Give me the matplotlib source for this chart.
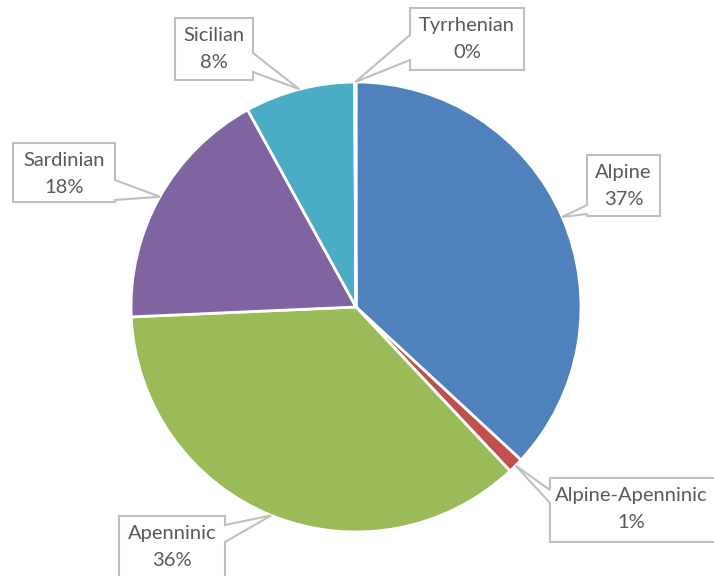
import numpy as np
import matplotlib.pyplot as plt
from matplotlib.patches import Polygon

# data
regions = ['Alpine', 'Alpine-Apenninic', 'Apenninic', 'Sardinian', 'Sicilian', 'Tyrrhenian']
shares = [36.9, 1.1, 36.3, 17.7, 7.9, 0.1]
colors = ['#4F81BD', '#C0504D', '#9BBB59', '#8064A2', '#4BACC6', '#F79646']

# callout boxes in pixel coords (x0, y0, x1, y1, top-left origin), wedge side and span
boxes = [
    (587, 155, 660, 216, 'left', 205, 214),
    (550, 478, 716, 542, 'left', 490, 503),
    (119, 516, 225, 600, 'right', 525, 542),
    (13, 143, 115, 202, 'right', 180, 200),
    (175, 18, 253, 80, 'right', 53, 72),
    (410, 8, 524, 70, 'left', 35, 60),
]

W, H = 714, 576
cx, cy, R = 356, 307, 225

fig = plt.figure(figsize=(W / 100, H / 100), dpi=100)
ax = fig.add_axes([0, 0, 1, 1])

ax.pie(shares, colors=colors, startangle=90, counterclock=False,
       center=(cx, H - cy), radius=R,
       wedgeprops=dict(edgecolor='white', linewidth=2))
ax.set_xlim(0, W)
ax.set_ylim(0, H)
ax.set_aspect('equal')
ax.axis('off')

# mid angles of each slice, for the callout tips
ends = 90 - np.cumsum(shares) * 3.6
mids = ends + np.array(shares) * 1.8

for name, share, mid, box in zip(regions, shares, mids, boxes):
    x0, y0, x1, y1, side, b0, b1 = box
    tx = cx + R * np.cos(np.radians(mid))
    ty = cy - R * np.sin(np.radians(mid))
    if side == 'left':
        pts = [(x0, y0), (x1, y0), (x1, y1), (x0, y1), (x0, b1), (tx, ty), (x0, b0)]
    else:
        pts = [(x0, y0), (x1, y0), (x1, b0), (tx, ty), (x1, b1), (x1, y1), (x0, y1)]
    pts = [(px, H - py) for px, py in pts]
    ax.add_patch(Polygon(pts, closed=True, facecolor='white', edgecolor='#BFBFBF',
                         linewidth=1.5, zorder=3))
    xc = (x0 + 713) / 2 if x1 > W else (x0 + x1) / 2
    ax.text(xc, H - (y0 + 31), f"{name}\n{round(share):.0f}%",
            ha='center', va='center', fontsize=14.5, color='#595959',
            family='Lato', linespacing=1.65, zorder=4)

fig.savefig('out.png', dpi=100)
